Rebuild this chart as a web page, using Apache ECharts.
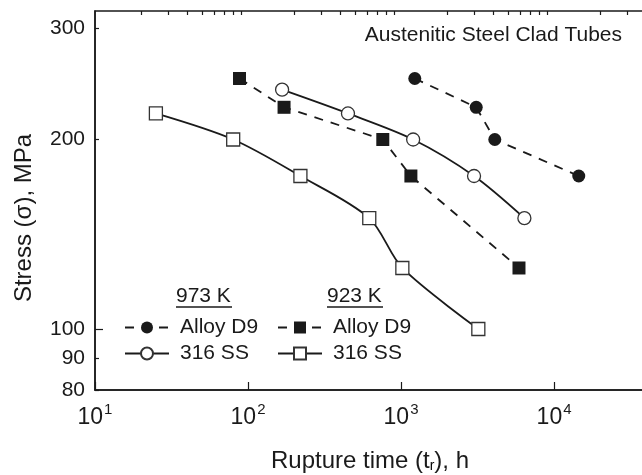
<!DOCTYPE html>
<html>
<head>
<meta charset="utf-8">
<script src="https://cdn.jsdelivr.net/npm/echarts@6/dist/echarts.min.js"></script>
<style>
html,body{margin:0;padding:0;background:#fff;}
#chart{width:642px;height:475px;}
</style>
</head>
<body>
<div id="chart"></div>
<script>
// ---- data (rupture time in h, stress in MPa) ----
const d9_973_time   = [1230, 3100, 4100, 14500];
const d9_973_stress = [250, 225, 200, 175];
const ss_973_time   = [167, 450, 1200, 3000, 6400];
const ss_973_stress = [240, 220, 200, 175, 150];
const d9_923_time   = [88, 172, 760, 1160, 5900];
const d9_923_stress = [250, 225, 200, 175, 125];
const ss_923_time   = [25, 80, 220, 620, 1020, 3200];
const ss_923_stress = [220, 200, 175, 150, 125, 100];

const xMajorTicks = [10, 100, 1000, 10000];
const xMinorTicks = [20,30,40,50,60,70,80,90,200,300,400,500,600,700,800,900,
                     2000,3000,4000,5000,6000,7000,8000,9000,20000,30000,40000];
const yTickLabels = [80, 90, 100, 200, 300];
const yShortTicks = [80, 90, 200, 300];
const yLongTicks  = [100];

const seriesNames = ['Alloy D9 | 973 K', '316 SS | 973 K', 'Alloy D9 | 923 K', '316 SS | 923 K'];
const titleText = 'Austenitic Steel Clad Tubes';

function pairs(xs, ys){ return xs.map((x,i)=>[x, ys[i]]); }

const FONT = '"Liberation Sans", Arial, sans-serif';
const INK = '#1a1a1a';

const chart = echarts.init(document.getElementById('chart'), null, {renderer:'canvas'});

const xBase = {type:'log', logBase:10, min:10, max:50000, gridIndex:0};
const yBase = {type:'log', logBase:10, min:80, max:320, gridIndex:0};

const option = {
  backgroundColor:'#fff',
  animation:false,
  grid:{left:95, width:566, top:11, height:379, containLabel:false, outerBoundsMode:'none',
        show:true, borderColor:INK, borderWidth:1.5, backgroundColor:'transparent'},
  title:{text:titleText, right:15, top:20, textStyle:{fontFamily:FONT, fontSize:21, fontWeight:'normal', color:INK}},
  xAxis:[
    Object.assign({}, xBase, {
      axisLine:{show:true, lineStyle:{color:INK, width:1.5}},
      axisTick:{show:true, inside:true, length:8, customValues:xMajorTicks, lineStyle:{color:INK, width:1.2}},
      axisLabel:{show:true, margin:12, customValues:xMajorTicks,
        formatter:function(v){ const e = Math.round(Math.log10(v)); return '{b|10}{s|' + e + '}'; },
        rich:{b:{fontFamily:FONT, fontSize:23, color:INK}, s:{fontFamily:FONT, fontSize:15, color:INK, verticalAlign:'top', padding:[0,0,16,1]}}},
      splitLine:{show:false}
    }),
    Object.assign({}, xBase, {
      axisLine:{show:false},
      axisTick:{show:true, inside:true, length:4, customValues:xMinorTicks, lineStyle:{color:INK, width:1.2}},
      axisLabel:{show:false},
      splitLine:{show:false}
    })
  ],
  yAxis:[
    Object.assign({}, yBase, {
      axisLine:{show:true, lineStyle:{color:INK, width:1.5}},
      axisTick:{show:true, inside:true, length:4, customValues:yShortTicks, lineStyle:{color:INK, width:1.2}},
      axisLabel:{show:true, margin:10, customValues:yTickLabels, fontFamily:FONT, fontSize:21, color:INK},
      splitLine:{show:false}
    }),
    Object.assign({}, yBase, {
      position:'left',
      axisLine:{show:false},
      axisTick:{show:true, inside:true, length:8, customValues:yLongTicks, lineStyle:{color:INK, width:1.2}},
      axisLabel:{show:false},
      splitLine:{show:false}
    })
  ],
  legend:[
    {data:[seriesNames[0], seriesNames[1]], orient:'vertical', left:119, top:312, itemGap:5,
     itemWidth:44, itemHeight:15,
     formatter:function(n){return n.split(' | ')[0];},
     textStyle:{fontFamily:FONT, fontSize:21, color:INK, padding:[0,0,0,6]}},
    {data:[seriesNames[2], seriesNames[3]], orient:'vertical', left:272, top:312, itemGap:5,
     itemWidth:44, itemHeight:15,
     formatter:function(n){return n.split(' | ')[0];},
     textStyle:{fontFamily:FONT, fontSize:21, color:INK, padding:[0,0,0,6]}}
  ],
  graphic:[
    {type:'text', left:176, top:286, style:{text:'973 K', font:'21px ' + FONT, fill:INK}},
    {type:'line', shape:{x1:176, y1:307, x2:232, y2:307}, style:{stroke:INK, lineWidth:1.3}},
    {type:'text', left:327, top:286, style:{text:'923 K', font:'21px ' + FONT, fill:INK}},
    {type:'line', shape:{x1:327, y1:307, x2:383, y2:307}, style:{stroke:INK, lineWidth:1.3}},
    {type:'text', x:24, y:218, rotation:Math.PI/2,
     style:{text:'Stress (σ), MPa', font:'24px ' + FONT, fill:INK, textAlign:'center', textVerticalAlign:'middle'}},
    {type:'text', x:370, y:461,
     style:{text:'{m|Rupture time (t}{sub|r}{m|), h}', textAlign:'center', textVerticalAlign:'middle',
       rich:{m:{fontFamily:FONT, fontSize:24, fill:INK, color:INK}, sub:{fontFamily:FONT, fontSize:14, color:INK, verticalAlign:'bottom', padding:[10,0,0,0]}}}}
  ],
  series:[
    {name:seriesNames[0], type:'line', xAxisIndex:0, yAxisIndex:0, data:pairs(d9_973_time, d9_973_stress),
     symbol:'circle', symbolSize:13, smooth:false,
     itemStyle:{color:INK, borderColor:INK, borderWidth:0},
     lineStyle:{color:INK, width:1.8, type:[9,8]}, z:3},
    {name:seriesNames[1], type:'line', xAxisIndex:0, yAxisIndex:0, data:pairs(ss_973_time, ss_973_stress),
     symbol:'circle', symbolSize:13, smooth:0.3,
     itemStyle:{color:'#fff', borderColor:'#333', borderWidth:1.3},
     lineStyle:{color:INK, width:1.8, type:'solid'}, z:3},
    {name:seriesNames[2], type:'line', xAxisIndex:0, yAxisIndex:0, data:pairs(d9_923_time, d9_923_stress),
     symbol:'rect', symbolSize:13, smooth:false,
     itemStyle:{color:INK, borderColor:INK, borderWidth:0},
     lineStyle:{color:INK, width:1.8, type:[9,8]}, z:3},
    {name:seriesNames[3], type:'line', xAxisIndex:0, yAxisIndex:0, data:pairs(ss_923_time, ss_923_stress),
     symbol:'rect', symbolSize:13, smooth:0.3,
     itemStyle:{color:'#fff', borderColor:'#333', borderWidth:1.3},
     lineStyle:{color:INK, width:1.8, type:'solid'}, z:3}
  ]
};
chart.setOption(option);
</script>
</body>
</html>
